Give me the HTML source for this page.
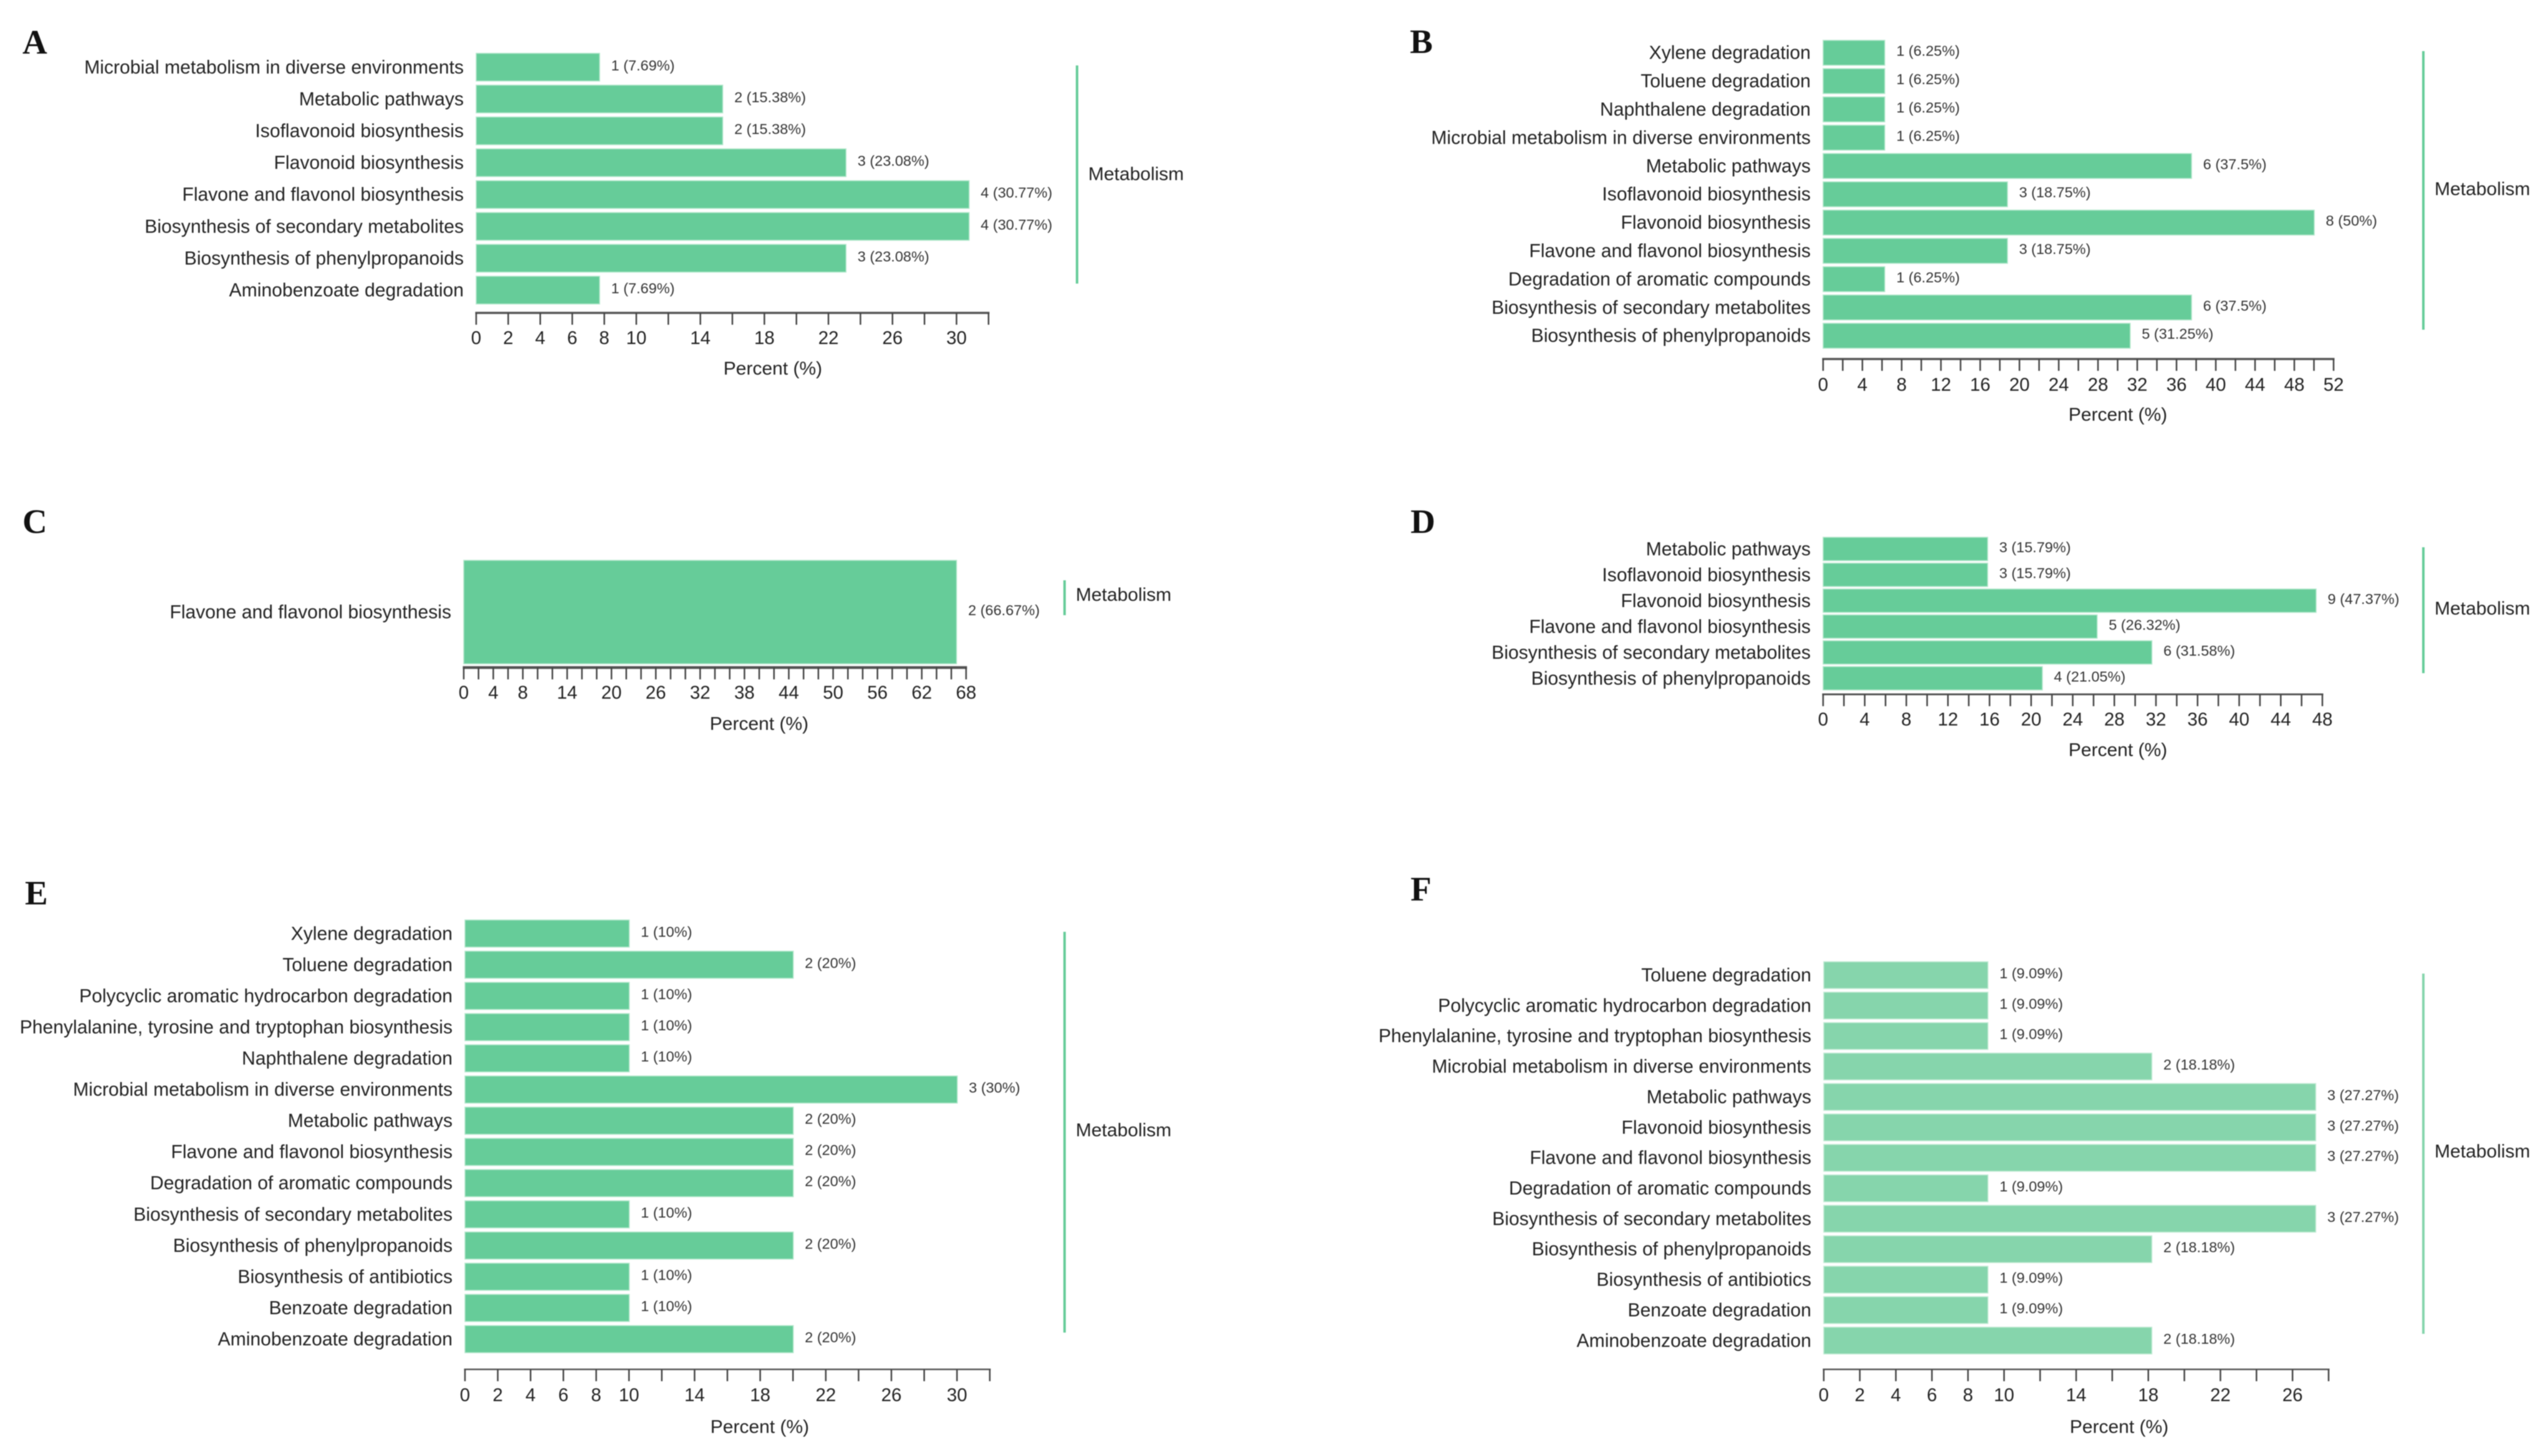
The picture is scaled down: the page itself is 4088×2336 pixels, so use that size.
<!DOCTYPE html>
<html lang="en">
<head>
<meta charset="utf-8">
<title>Pathway enrichment bar charts</title>
<style>
html,body{margin:0;padding:0;background:#fff;}
#figure{display:block;width:4088px;height:2336px;font-family:"Liberation Sans",Arial,sans-serif;filter:blur(0.7px);}
.letter{font-family:"Liberation Serif",serif;font-weight:bold;font-size:55px;fill:#111;}
.cat{font-size:30.1px;fill:#222;text-anchor:end;}
.val{font-size:23.5px;fill:#333;}
.tick{font-size:29.5px;fill:#222;text-anchor:middle;}
.title{font-size:30px;fill:#222;text-anchor:middle;}
.group{font-size:30px;fill:#222;}
</style>
</head>
<body>
<svg id="figure" xmlns="http://www.w3.org/2000/svg" width="4088" height="2336" viewBox="0 0 4088 2336">
  <rect x="0" y="0" width="4088" height="2336" fill="#ffffff"/>
  <text class="letter" x="36" y="86">A</text>
  <text class="letter" x="2262" y="85">B</text>
  <text class="letter" x="36" y="855">C</text>
  <text class="letter" x="2263" y="855">D</text>
  <text class="letter" x="40" y="1451">E</text>
  <text class="letter" x="2263" y="1445">F</text>
  <g id="panel-a"></g>
  <g id="panel-b"></g>
  <g id="panel-c"></g>
  <g id="panel-d"></g>
  <g id="panel-e"></g>
  <g id="panel-f"></g>
</svg>
<script>
// ---- Data: panel A ----
const categoriesA = ["Microbial metabolism in diverse environments","Metabolic pathways","Isoflavonoid biosynthesis","Flavonoid biosynthesis","Flavone and flavonol biosynthesis","Biosynthesis of secondary metabolites","Biosynthesis of phenylpropanoids","Aminobenzoate degradation"];
const countsA = [1,2,2,3,4,4,3,1];
const percentsA = [7.69,15.38,15.38,23.08,30.77,30.77,23.08,7.69];
const tickLabelsA = [0,2,4,6,8,10,14,18,22,26,30];
const axisMaxA = 32;

// ---- Data: panel B ----
const categoriesB = ["Xylene degradation","Toluene degradation","Naphthalene degradation","Microbial metabolism in diverse environments","Metabolic pathways","Isoflavonoid biosynthesis","Flavonoid biosynthesis","Flavone and flavonol biosynthesis","Degradation of aromatic compounds","Biosynthesis of secondary metabolites","Biosynthesis of phenylpropanoids"];
const countsB = [1,1,1,1,6,3,8,3,1,6,5];
const percentsB = [6.25,6.25,6.25,6.25,37.5,18.75,50,18.75,6.25,37.5,31.25];
const tickLabelsB = [0,4,8,12,16,20,24,28,32,36,40,44,48,52];
const axisMaxB = 52;

// ---- Data: panel C ----
const categoriesC = ["Flavone and flavonol biosynthesis"];
const countsC = [2];
const percentsC = [66.67];
const tickLabelsC = [0,4,8,14,20,26,32,38,44,50,56,62,68];
const axisMaxC = 68;

// ---- Data: panel D ----
const categoriesD = ["Metabolic pathways","Isoflavonoid biosynthesis","Flavonoid biosynthesis","Flavone and flavonol biosynthesis","Biosynthesis of secondary metabolites","Biosynthesis of phenylpropanoids"];
const countsD = [3,3,9,5,6,4];
const percentsD = [15.79,15.79,47.37,26.32,31.58,21.05];
const tickLabelsD = [0,4,8,12,16,20,24,28,32,36,40,44,48];
const axisMaxD = 48;

// ---- Data: panel E ----
const categoriesE = ["Xylene degradation","Toluene degradation","Polycyclic aromatic hydrocarbon degradation","Phenylalanine, tyrosine and tryptophan biosynthesis","Naphthalene degradation","Microbial metabolism in diverse environments","Metabolic pathways","Flavone and flavonol biosynthesis","Degradation of aromatic compounds","Biosynthesis of secondary metabolites","Biosynthesis of phenylpropanoids","Biosynthesis of antibiotics","Benzoate degradation","Aminobenzoate degradation"];
const countsE = [1,2,1,1,1,3,2,2,2,1,2,1,1,2];
const percentsE = [10,20,10,10,10,30,20,20,20,10,20,10,10,20];
const tickLabelsE = [0,2,4,6,8,10,14,18,22,26,30];
const axisMaxE = 32;

// ---- Data: panel F ----
const categoriesF = ["Toluene degradation","Polycyclic aromatic hydrocarbon degradation","Phenylalanine, tyrosine and tryptophan biosynthesis","Microbial metabolism in diverse environments","Metabolic pathways","Flavonoid biosynthesis","Flavone and flavonol biosynthesis","Degradation of aromatic compounds","Biosynthesis of secondary metabolites","Biosynthesis of phenylpropanoids","Biosynthesis of antibiotics","Benzoate degradation","Aminobenzoate degradation"];
const countsF = [1,1,1,2,3,3,3,1,3,2,1,1,2];
const percentsF = [9.09,9.09,9.09,18.18,27.27,27.27,27.27,9.09,27.27,18.18,9.09,9.09,18.18];
const tickLabelsF = [0,2,4,6,8,10,14,18,22,26];
const axisMaxF = 28;

const groupLabel = "Metabolism";
const axisTitle = "Percent (%)";
const tickStep = 2;

// ---- Layout (pixel frames, separate from the data) ----
const frames = {
  a:{left:764, right:1586, top:85.5, pitch:51.1, barH:44.5, axisY:502, axisW:3.5, tickBase:552, titleX:1240, titleY:601, lineX:1728, lineTop:105, lineBot:455, groupY:289, color:"#66cc99", edge:"#b5e8cd"},
  b:{left:2925,right:3744, top:64.7, pitch:45.4, barH:40,   axisY:576, axisW:3.5, tickBase:627, titleX:3398, titleY:675, lineX:3888, lineTop:82,  lineBot:529, groupY:313, color:"#66cc99", edge:"#b5e8cd"},
  c:{left:744, right:1550, top:899,  pitch:167,  barH:166,  axisY:1071,axisW:4.5, tickBase:1121,titleX:1218, titleY:1171,lineX:1708, lineTop:931, lineBot:987, groupY:964, color:"#66cc99", edge:"#b5e8cd"},
  d:{left:2925,right:3726, top:862,  pitch:41.5, barH:37.5, axisY:1114,axisW:3,   tickBase:1164,titleX:3398, titleY:1213,lineX:3888, lineTop:878, lineBot:1080,groupY:986, color:"#66cc99", edge:"#b5e8cd"},
  e:{left:746, right:1588, top:1476, pitch:50.06,barH:43.5, axisY:2197,axisW:2.5, tickBase:2248,titleX:1219, titleY:2299,lineX:1708, lineTop:1495,lineBot:2138,groupY:1823,color:"#66cc99", edge:"#b5e8cd"},
  f:{left:2926,right:3736, top:1543, pitch:48.86,barH:43,   axisY:2197,axisW:2.5, tickBase:2248,titleX:3400, titleY:2299,lineX:3888, lineTop:1562,lineBot:2140,groupY:1857,color:"#86d5ac", edge:"#c3ebd5"}
};

const SVG_NS = "http://www.w3.org/2000/svg";

function make(parent, tag, props, text) {
  const node = document.createElementNS(SVG_NS, tag);
  for (const key in props) node.setAttribute(key, props[key]);
  if (text !== undefined) node.textContent = text;
  parent.appendChild(node);
  return node;
}

function drawPanel(id, categories, counts, percents, tickLabels, axisMax) {
  const f = frames[id];
  const root = document.getElementById("panel-" + id);
  const xScale = function (v) { return f.left + (f.right - f.left) * v / axisMax; };
  const yScale = function (i) { return f.top + f.pitch * i; };

  categories.forEach(function (name, i) {
    const y = yScale(i);
    const mid = y + f.barH / 2;

    const bar = make(root, "rect", {x: xScale(0), y: y, width: xScale(percents[i]) - xScale(0) + 0.5, height: f.barH, fill: f.color, stroke: f.edge, "stroke-width": 1.5});
    
    

    const cat = make(root, "text", {class: "cat", x: f.left - 20, y: mid + 10}, name);
    
    

    const val = make(root, "text", {class: "val", x: xScale(percents[i]) + 19, y: mid + 5}, counts[i] + " (" + percents[i] + "%)");
    
    
  });

  const axis = make(root, "line", {x1: xScale(0) - 1.5, x2: xScale(axisMax) + 1.5, y1: f.axisY, y2: f.axisY, stroke: "#555", "stroke-width": f.axisW});
  
  

  for (let v = 0; v <= axisMax; v += tickStep) {
    const tick = make(root, "line", {x1: xScale(v), x2: xScale(v), y1: f.axisY, y2: f.axisY + 19, stroke: "#444", "stroke-width": 2.5});
    
    
  }

  tickLabels.forEach(function (v) {
    const label = make(root, "text", {class: "tick", x: xScale(v), y: f.tickBase}, String(v));
    
    
  });

  const title = make(root, "text", {class: "title", x: f.titleX, y: f.titleY}, axisTitle);
  
  

  const bracket = make(root, "line", {x1: f.lineX, x2: f.lineX, y1: f.lineTop, y2: f.lineBot, stroke: f.color, "stroke-width": 4});
  
  

  const group = make(root, "text", {class: "group", x: f.lineX + 18, y: f.groupY}, groupLabel);
  
  
}

drawPanel("a", categoriesA, countsA, percentsA, tickLabelsA, axisMaxA);
drawPanel("b", categoriesB, countsB, percentsB, tickLabelsB, axisMaxB);
drawPanel("c", categoriesC, countsC, percentsC, tickLabelsC, axisMaxC);
drawPanel("d", categoriesD, countsD, percentsD, tickLabelsD, axisMaxD);
drawPanel("e", categoriesE, countsE, percentsE, tickLabelsE, axisMaxE);
drawPanel("f", categoriesF, countsF, percentsF, tickLabelsF, axisMaxF);
</script>
</body>
</html>
